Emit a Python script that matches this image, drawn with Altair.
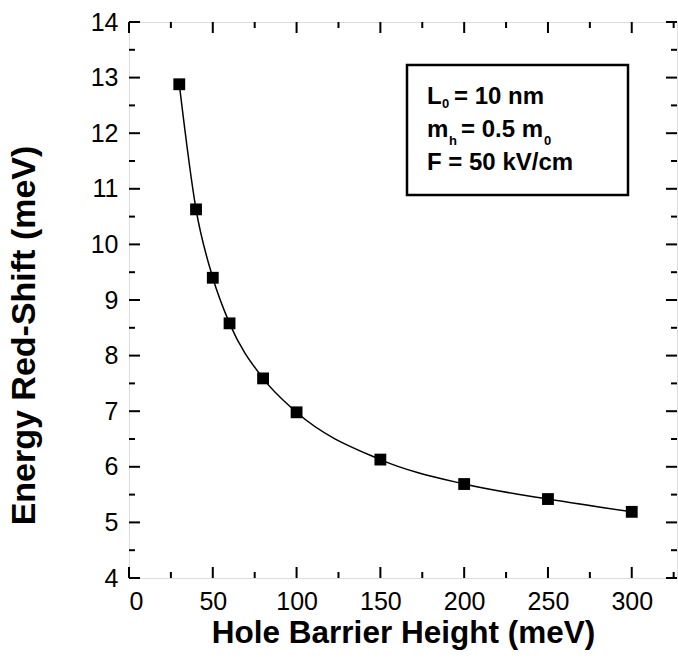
import altair as alt
import pandas as pd

# Data
barrier = [30, 40, 50, 60, 80, 100, 150, 200, 250, 300]
redshift = [12.88, 10.63, 9.40, 8.58, 7.59, 6.98, 6.13, 5.69, 5.42, 5.19]

x_major = [0, 50, 100, 150, 200, 250, 300]
x_minor = [25, 75, 125, 175, 225, 275, 325]
y_major = [4, 5, 6, 7, 8, 9, 10, 11, 12, 13, 14]
y_minor = [4.5, 5.5, 6.5, 7.5, 8.5, 9.5, 10.5, 11.5, 12.5, 13.5]

df = pd.DataFrame({"barrier": barrier, "redshift": redshift})

W, H = 548, 556
FONT = "Liberation Sans"
XT = "Hole Barrier Height (meV)"
YT = "Energy Red-Shift (meV)"

xscale = alt.Scale(domain=[0, 327], nice=False, zero=False)
yscale = alt.Scale(domain=[4, 14], nice=False, zero=False)

xaxis = alt.Axis(values=x_major, format="d", ticks=False, grid=False,
                 labelFontSize=25, labelFont=FONT, labelPadding=11,
                 labelColor="black", domain=False,
                 titleFont=FONT, titleFontSize=31.5, titleFontWeight="bold",
                 titleColor="black", titlePadding=3)
yaxis = alt.Axis(values=y_major, format="d", ticks=False, grid=False,
                 labelFontSize=25, labelFont=FONT, labelPadding=11,
                 labelColor="black", domain=False,
                 titleFont=FONT, titleFontSize=34, titleFontWeight="bold",
                 titleColor="black", titleX=-105, titleY=313,
                 titleBaseline="middle", titleAlign="center", titleAngle=270)

line = alt.Chart(df).mark_line(color="black", strokeWidth=1.5, interpolate="monotone").encode(
    x=alt.X("barrier:Q", scale=xscale, axis=xaxis, title=XT),
    y=alt.Y("redshift:Q", scale=yscale, axis=yaxis, title=YT),
)
pts = alt.Chart(df).mark_point(shape="square", filled=True, color="black", size=140, opacity=1).encode(
    x=alt.X("barrier:Q", scale=xscale, title=XT),
    y=alt.Y("redshift:Q", scale=yscale, title=YT),
)

def xticks(vals, length):
    d = pd.DataFrame({"v": vals})
    bottom = alt.Chart(d).mark_rule(color="black", strokeWidth=2).encode(
        x=alt.X("v:Q", scale=xscale, title=XT), y=alt.value(H), y2=alt.value(H - length))
    top = alt.Chart(d).mark_rule(color="black", strokeWidth=2).encode(
        x=alt.X("v:Q", scale=xscale, title=XT), y=alt.value(0), y2=alt.value(length))
    return [bottom, top]

def yticks(vals, length):
    d = pd.DataFrame({"v": vals})
    left = alt.Chart(d).mark_rule(color="black", strokeWidth=2).encode(
        y=alt.Y("v:Q", scale=yscale, title=YT), x=alt.value(0), x2=alt.value(length))
    right = alt.Chart(d).mark_rule(color="black", strokeWidth=2).encode(
        y=alt.Y("v:Q", scale=yscale, title=YT), x=alt.value(W), x2=alt.value(W - length))
    return [left, right]

ticks = xticks(x_major, 11) + xticks(x_minor, 6) + yticks(y_major, 11) + yticks(y_minor, 6)

one = pd.DataFrame({"a": [0]})
box = alt.Chart(one).mark_rect(fill="white", stroke="black", strokeWidth=2.5).encode(
    x=alt.value(278), x2=alt.value(499), y=alt.value(43), y2=alt.value(173))

def txt(s, x, y, size):
    return alt.Chart(one).mark_text(text=s, align="left", baseline="alphabetic",
                                    font=FONT, fontWeight="bold", fontSize=size,
                                    color="black").encode(x=alt.value(x), y=alt.value(y))

labels = [
    txt("L", 298, 81.5, 24), txt("0", 313, 86, 13), txt("= 10 nm", 325, 81.5, 24),
    txt("m", 298, 115, 24), txt("h", 320, 123, 13), txt("= 0.5 m", 332, 115, 24),
    txt("0", 415, 123, 13),
    txt("F = 50 kV/cm", 298, 148, 24),
]

chart = alt.layer(line, pts, *ticks, box, *labels).properties(
    width=W, height=H,
    autosize=alt.AutoSizeParams(type="none"),
    padding={"left": 129, "top": 22, "right": 1, "bottom": 80},
).configure_view(stroke="black", strokeWidth=3).configure(background="white")

chart.save("out.html", embed_options={"renderer": "svg", "actions": False})
